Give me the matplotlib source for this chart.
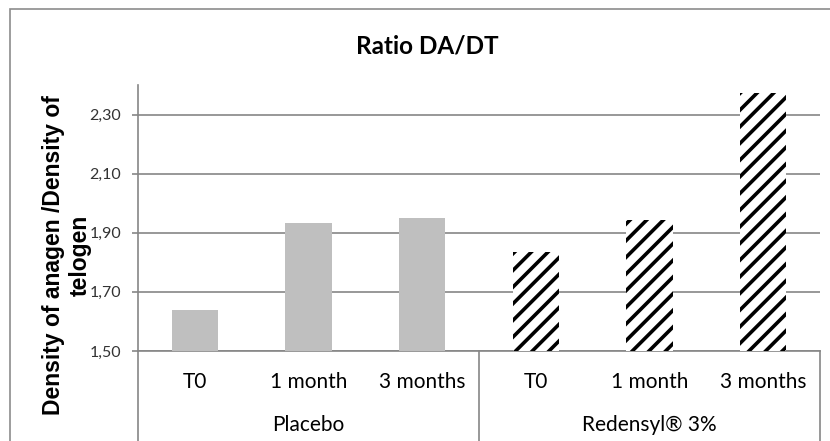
import numpy as np
import matplotlib.pyplot as plt
from matplotlib.lines import Line2D
from matplotlib.patches import Rectangle

plt.rcParams['hatch.linewidth'] = 2.6

groups = ["Placebo", "Redensyl® 3%"]
timepoints = ["T0", "1 month", "3 months"]
placebo = [1.64, 1.934, 1.951]
redensyl = [1.834, 1.944, 2.372]
yticks = [1.50, 1.70, 1.90, 2.10, 2.30]

W, H = 830, 441
fig = plt.figure(figsize=(W / 100, H / 100), dpi=100)
ax = fig.add_axes([138 / W, (H - 351) / H, (820 - 138) / W, (351 - 85) / H])

grid_col = "#868686"
font_body = ["Lato", "DejaVu Sans"]

# outer chart frame
fig.patches.append(Rectangle((10 / W, -0.1), 1.2, 1 - 9 / H + 0.1, transform=fig.transFigure,
                             fill=False, edgecolor="#8c8c8c", linewidth=1.2))

x_pl = np.arange(3)
x_rd = np.arange(3) + 3
ax.bar(x_pl, np.array(placebo) - 1.5, bottom=1.5, width=0.41, color="#bfbfbf", zorder=3)
ax.bar(x_rd, np.array(redensyl) - 1.5, bottom=1.5, width=0.41, color="white",
       edgecolor="black", hatch="//", linewidth=0, zorder=3)

ax.set_xlim(-0.5, 5.5)
ax.set_ylim(1.50, 2.40)
ax.set_yticks(yticks)
ax.set_yticklabels([f"{v:.2f}".replace(".", ",") for v in yticks], fontsize=11.5,
                   family=font_body, color="#333333")
ax.yaxis.grid(True, color=grid_col, linewidth=1.2)
ax.set_axisbelow(True)
ax.tick_params(axis="y", length=4, color=grid_col, width=1.2, pad=8)

ax.set_xticks([])
for s in ["top", "right"]:
    ax.spines[s].set_visible(False)
for s in ["left", "bottom"]:
    ax.spines[s].set_color(grid_col)
    ax.spines[s].set_linewidth(1.2)

# multi-level category axis
trans = ax.get_xaxis_transform()
for i, lab in enumerate(timepoints * 2):
    ax.text(i, -0.118, lab, transform=trans, ha="center", va="center",
            fontsize=15, family=font_body, color="black")
for g, lab in enumerate(groups):
    ax.text(g * 3 + 1, -0.278, lab, transform=trans, ha="center", va="center",
            fontsize=15, family=font_body, color="black")
for xv in [-0.5, 2.5, 5.5]:
    ax.add_line(Line2D([xv, xv], [0, -0.4], transform=trans, color=grid_col,
                       linewidth=1.2, clip_on=False))

fig.text(427 / W, 1 - 46 / H, "Ratio DA/DT", ha="center", va="center",
         fontsize=17.5, fontweight="bold", family=font_body)
fig.text(67 / W, 1 - 255 / H, "Density of anagen /Density of\ntelogen", rotation=90,
         ha="center", va="center", fontsize=16.5, fontweight="bold",
         family=["Liberation Sans", "DejaVu Sans"], linespacing=1.2)

fig.savefig("out.png", dpi=100)
